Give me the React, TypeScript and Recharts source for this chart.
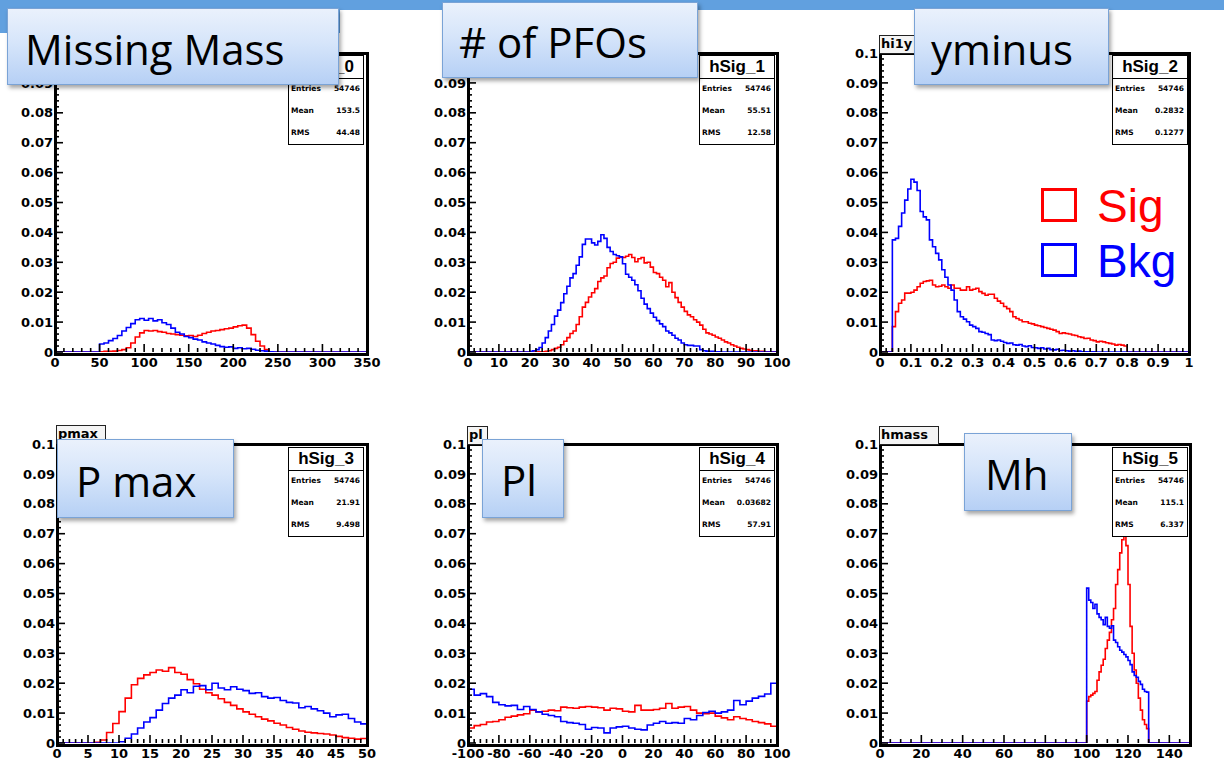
import React from 'react';
import { LineChart, Line, XAxis, YAxis } from 'recharts';

const SIG = '#ff0000';
const BKG = '#0000ff';
const BAR = '#61a0df';

// ---------- y axis (shared) ----------
const yMajor = [0, 0.01, 0.02, 0.03, 0.04, 0.05, 0.06, 0.07, 0.08, 0.09, 0.1];
const yLabels = ['0', '0.01', '0.02', '0.03', '0.04', '0.05', '0.06', '0.07', '0.08', '0.09', '0.1'];

// ---------- Panel 1: Missing Mass ----------
const mmRange = [0, 350];
const mmStart = 50;
const mmWidth = 5;
const mmSig = [
  0.0001, 0.0002, 0.0002, 0.0003, 0.0005, 0.0008, 0.0014, 0.0030, 0.0050, 0.0064,
  0.0072, 0.0070, 0.0072, 0.0068, 0.0066, 0.0062, 0.0060, 0.0058, 0.0056, 0.0054,
  0.0055, 0.0052, 0.0056, 0.0062, 0.0066, 0.0070, 0.0072, 0.0075, 0.0078, 0.0080,
  0.0084, 0.0088, 0.0090, 0.0080, 0.0058, 0.0036, 0.0020, 0.0008, 0.0001,
];
const mmBkg = [
  0.0027, 0.0030, 0.0038, 0.0045, 0.0055, 0.0070, 0.0082, 0.0095, 0.0108, 0.0112,
  0.0106, 0.0112, 0.0104, 0.0108, 0.0098, 0.0092, 0.0080, 0.0066, 0.0060, 0.0052,
  0.0048, 0.0043, 0.0040, 0.0034, 0.0030, 0.0027, 0.0022, 0.0018, 0.0016, 0.0017,
  0.0012, 0.0014, 0.0011, 0.0012, 0.0009, 0.0006, 0.0004, 0.0003, 0.0001,
];
const mmXTicks = [0, 50, 100, 150, 200, 250, 300, 350];
const mmXLabels = ['0', '50', '100', '150', '200', '250', '300', '350'];

// ---------- Panel 2: # of PFOs ----------
const pfoRange = [0, 100];
const pfoStart = 20;
const pfoWidth = 1;
const pfoSig = [
  0.0001, 0.0001, 0.0001, 0.0001, 0.0001, 0.0002, 0.0004, 0.0008, 0.0012, 0.0016,
  0.0024, 0.0036, 0.0048, 0.0062, 0.0070, 0.0092, 0.0118, 0.0150, 0.0166, 0.0184,
  0.0198, 0.0212, 0.0236, 0.0248, 0.0254, 0.0282, 0.0296, 0.0300, 0.0314, 0.0318,
  0.0316, 0.0320, 0.0326, 0.0316, 0.0302, 0.0312, 0.0316, 0.0298, 0.0300, 0.0284,
  0.0266, 0.0262, 0.0250, 0.0240, 0.0218, 0.0232, 0.0200, 0.0182, 0.0166, 0.0150,
  0.0136, 0.0124, 0.0118, 0.0108, 0.0100, 0.0090, 0.0076, 0.0064, 0.0060, 0.0056,
  0.0050, 0.0046, 0.0040, 0.0034, 0.0030, 0.0024, 0.0020, 0.0016, 0.0012, 0.0010,
  0.0008, 0.0006, 0.0004, 0.0004, 0.0002, 0.0002, 0.0001, 0.0001, 0.0001, 0.0001,
];
const pfoBkg = [
  0.0002, 0.0004, 0.0008, 0.0015, 0.0030, 0.0048, 0.0070, 0.0092, 0.0120, 0.0140,
  0.0165, 0.0195, 0.0220, 0.0248, 0.0262, 0.0290, 0.0318, 0.0360, 0.0378, 0.0378,
  0.0365, 0.0358, 0.0370, 0.0392, 0.0380, 0.0350, 0.0336, 0.0326, 0.0322, 0.0318,
  0.0295, 0.0260, 0.0250, 0.0240, 0.0225, 0.0205, 0.0180, 0.0160, 0.0145, 0.0130,
  0.0116, 0.0105, 0.0094, 0.0085, 0.0070, 0.0064, 0.0056, 0.0046, 0.0040, 0.0030,
  0.0024, 0.0022, 0.0022, 0.0020, 0.0020, 0.0008, 0.0004, 0.0003, 0.0002, 0.0002,
  0.0001, 0.0001, 0, 0, 0, 0, 0, 0, 0, 0,
  0, 0, 0, 0, 0, 0, 0, 0, 0, 0,
];
const pfoXTicks = [0, 10, 20, 30, 40, 50, 60, 70, 80, 90, 100];
const pfoXLabels = ['0', '10', '20', '30', '40', '50', '60', '70', '80', '90', '100'];

// ---------- Panel 3: yminus ----------
const ymRange = [0, 1];
const ymStart = 0.04;
const ymWidth = 0.01;
const ymSig = [
  0.0085, 0.0135, 0.0163, 0.0174, 0.0197, 0.0197,
  0.0200, 0.0207, 0.0218, 0.0230, 0.0236, 0.0238, 0.0240, 0.0224, 0.0218, 0.0220,
  0.0224, 0.0218, 0.0213, 0.0224, 0.0213, 0.0213, 0.0207, 0.0207, 0.0218, 0.0207,
  0.0210, 0.0213, 0.0202, 0.0196, 0.0190, 0.0193, 0.0193, 0.0180, 0.0170, 0.0163,
  0.0152, 0.0145, 0.0135, 0.0118, 0.0112, 0.0107, 0.0101, 0.0101, 0.0096, 0.0094,
  0.0090, 0.0088, 0.0085, 0.0082, 0.0079, 0.0076, 0.0073, 0.0068, 0.0062, 0.0064,
  0.0062, 0.0060, 0.0057, 0.0055, 0.0051, 0.0049, 0.0045, 0.0046, 0.0040, 0.0038,
  0.0034, 0.0036, 0.0034, 0.0031, 0.0029, 0.0027, 0.0023, 0.0025, 0.0023, 0.0020,
];
const ymBkg = [
  0.0375, 0.0380, 0.0420, 0.0465, 0.0508, 0.0545,
  0.0578, 0.0568, 0.0540, 0.0470, 0.0452, 0.0442, 0.0375, 0.0352, 0.0330, 0.0308,
  0.0275, 0.0250, 0.0224, 0.0207, 0.0174, 0.0135, 0.0118, 0.0110, 0.0101, 0.0090,
  0.0085, 0.0079, 0.0068, 0.0066, 0.0062, 0.0058, 0.0040, 0.0038, 0.0040, 0.0036,
  0.0032, 0.0029, 0.0030, 0.0024, 0.0023, 0.0025, 0.0020, 0.0018, 0.0021, 0.0015,
  0.0014, 0.0012, 0.0014, 0.0010, 0.0012, 0.0008, 0.0007, 0.0009, 0.0005, 0.0006,
  0.0004, 0.0003, 0.0004, 0.0002, 0.0003, 0.0001, 0.0001, 0.0001, 0.0001, 0.0001,
  0, 0, 0, 0, 0, 0, 0, 0, 0, 0,
];
const ymXTicks = [0, 0.1, 0.2, 0.3, 0.4, 0.5, 0.6, 0.7, 0.8, 0.9, 1];
const ymXLabels = ['0', '0.1', '0.2', '0.3', '0.4', '0.5', '0.6', '0.7', '0.8', '0.9', '1'];

// ---------- Panel 4: P max ----------
const pmRange = [0, 50];
const pmStart = 6;
const pmWidth = 1;
const pmSig = [
  0.0002, 0.0010, 0.0035, 0.0065, 0.0105, 0.0150, 0.0195, 0.0216, 0.0228, 0.0236,
  0.0244, 0.0240, 0.0252, 0.0236, 0.0230, 0.0212, 0.0198, 0.0180, 0.0168, 0.0160,
  0.0148, 0.0136, 0.0126, 0.0114, 0.0104, 0.0096, 0.0088, 0.0080, 0.0074, 0.0066,
  0.0060, 0.0052, 0.0046, 0.0040, 0.0036, 0.0034, 0.0032, 0.0030, 0.0027, 0.0022,
  0.0018, 0.0016, 0.0013, 0.0015,
];
const pmBkg = [
  0, 0, 0, 0, 0.0004, 0.0016, 0.0030, 0.0050, 0.0070, 0.0085,
  0.0110, 0.0132, 0.0150, 0.0160, 0.0178, 0.0168, 0.0190, 0.0192, 0.0178, 0.0200,
  0.0184, 0.0178, 0.0188, 0.0180, 0.0175, 0.0166, 0.0168, 0.0155, 0.0150, 0.0152,
  0.0142, 0.0136, 0.0134, 0.0118, 0.0122, 0.0114, 0.0108, 0.0100, 0.0088, 0.0094,
  0.0096, 0.0082, 0.0070, 0.0064,
];
const pmXTicks = [0, 5, 10, 15, 20, 25, 30, 35, 40, 45, 50];
const pmXLabels = ['0', '5', '10', '15', '20', '25', '30', '35', '40', '45', '50'];

// ---------- Panel 5: Pl ----------
const plRange = [-100, 100];
const plStart = -100;
const plWidth = 4;
const plSig = [
  0.0050, 0.0058, 0.0062, 0.0070, 0.0072, 0.0078, 0.0086, 0.0090, 0.0094, 0.0098,
  0.0110, 0.0104, 0.0106, 0.0110, 0.0108, 0.0120, 0.0118, 0.0116, 0.0120, 0.0122,
  0.0120, 0.0118, 0.0110, 0.0116, 0.0114, 0.0106, 0.0104, 0.0126, 0.0110, 0.0110,
  0.0112, 0.0116, 0.0132, 0.0116, 0.0120, 0.0122, 0.0110, 0.0100, 0.0098, 0.0100,
  0.0090, 0.0084, 0.0078, 0.0088, 0.0082, 0.0078, 0.0072, 0.0068, 0.0064, 0.0056,
];
const plBkg = [
  0.0180, 0.0160, 0.0165, 0.0155, 0.0136, 0.0128, 0.0124, 0.0126, 0.0112, 0.0122,
  0.0112, 0.0104, 0.0096, 0.0092, 0.0088, 0.0072, 0.0068, 0.0066, 0.0062, 0.0046,
  0.0052, 0.0050, 0.0034, 0.0050, 0.0054, 0.0056, 0.0050, 0.0046, 0.0044, 0.0060,
  0.0066, 0.0072, 0.0066, 0.0068, 0.0066, 0.0082, 0.0078, 0.0092, 0.0102, 0.0106,
  0.0100, 0.0104, 0.0110, 0.0142, 0.0128, 0.0140, 0.0150, 0.0156, 0.0164, 0.0200,
];
const plXTicks = [-100, -80, -60, -40, -20, 0, 20, 40, 60, 80, 100];
const plXLabels = ['-100', '-80', '-60', '-40', '-20', '0', '20', '40', '60', '80', '100'];

// ---------- Panel 6: Mh ----------
const mhRange = [0, 150];
const mhStart = 100;
const mhWidth = 1;
const mhSig = [
  0.0140, 0.0155, 0.0160, 0.0166, 0.0172, 0.0210, 0.0238, 0.0260, 0.0280, 0.0316,
  0.0344, 0.0370, 0.0412, 0.0450, 0.0530, 0.0580, 0.0636, 0.0680, 0.0692, 0.0660,
  0.0530, 0.0390, 0.0300, 0.0244, 0.0200, 0.0150, 0.0110, 0.0078, 0.0062, 0.0048,
];
const mhBkg = [
  0.0518, 0.0478, 0.0470, 0.0450, 0.0464, 0.0432, 0.0420, 0.0412, 0.0396, 0.0420,
  0.0390, 0.0384, 0.0392, 0.0344, 0.0336, 0.0322, 0.0310, 0.0304, 0.0296, 0.0288,
  0.0276, 0.0262, 0.0238, 0.0226, 0.0220, 0.0206, 0.0196, 0.0180, 0.0172, 0.0170,
];
const mhXTicks = [0, 20, 40, 60, 80, 100, 120, 140];
const mhXLabels = ['0', '20', '40', '60', '80', '100', '120', '140'];

// ---------- helpers ----------
type Row = { x: number; sig: number; bkg: number };

function histTable(range: number[], start: number, width: number, sig: number[], bkg: number[]): Row[] {
  const rows: Row[] = [{ x: range[0], sig: 0, bkg: 0 }];
  sig.forEach((s, i) => rows.push({ x: +(start + i * width).toFixed(6), sig: s, bkg: bkg[i] }));
  const end = +(start + sig.length * width).toFixed(6);
  rows.push({ x: end, sig: 0, bkg: 0 });
  if (end < range[1]) rows.push({ x: range[1], sig: 0, bkg: 0 });
  return rows;
}

function grid(lo: number, hi: number, step: number): number[] {
  const n = Math.round((hi - lo) / step);
  return Array.from({ length: n + 1 }, (_, i) => +(lo + i * step).toFixed(6));
}

const tickFont: React.CSSProperties = {
  fontFamily: '"DejaVu Sans", sans-serif',
  fontWeight: 700,
  fontSize: 13,
  fill: '#000',
};

const makeXTick = (majors: number[], labels: string[]) => (props: any) => {
  const x = Number(props.x);
  const y = Number(props.y);
  const idx = majors.findIndex((m) => Math.abs(m - props.payload.value) < 1e-7);
  const major = idx >= 0;
  const len = major ? 8 : 4;
  return (
    <g>
      <path d={`M${x},${y}L${x},${y - len}`} stroke="#000" strokeWidth={1.6} fill="none" />
      {major && (
        <text x={x} y={y + 15} textAnchor="middle" style={tickFont}>
          {labels[idx]}
        </text>
      )}
    </g>
  );
};

const yTickFn = (props: any) => {
  const x = Number(props.x);
  const y = Number(props.y);
  const idx = yMajor.findIndex((m) => Math.abs(m - props.payload.value) < 1e-7);
  const major = idx >= 0;
  const len = major ? 8 : 4;
  return (
    <g>
      <path d={`M${x},${y}L${x + len},${y}`} stroke="#000" strokeWidth={1.6} fill="none" />
      {major && (
        <text x={x - 2} y={y} dy="0.36em" textAnchor="end" style={tickFont}>
          {yLabels[idx]}
        </text>
      )}
    </g>
  );
};

const yAll = grid(0, 0.1, 0.002);

type PanelProps = {
  left: number;
  top: number;
  right: number;
  bottom: number;
  range: number[];
  data: Row[];
  xMajor: number[];
  xLabels: string[];
  minorStep: number;
};

function Panel({ left, top, right, bottom, range, data, xMajor, xLabels, minorStep }: PanelProps) {
  const w = right - left;
  const h = bottom - top;
  const xAll = grid(range[0], range[1], minorStep);
  return (
    <>
      <div style={{ position: 'absolute', left: left - 50, top: top - 10 }}>
        <LineChart width={w + 75} height={h + 30} data={data} margin={{ top: 10, right: 25, left: 0, bottom: 0 }}>
          <XAxis
            dataKey="x"
            type="number"
            domain={range}
            allowDataOverflow
            ticks={xAll}
            interval={0}
            tickSize={0}
            tickMargin={0}
            height={20}
            axisLine={false}
            tickLine={false}
            tick={makeXTick(xMajor, xLabels)}
          />
          <YAxis
            type="number"
            domain={[0, 0.1]}
            allowDataOverflow
            ticks={yAll}
            interval={0}
            tickSize={0}
            tickMargin={0}
            width={50}
            axisLine={false}
            tickLine={false}
            tick={yTickFn}
          />
          <Line type="stepAfter" dataKey="sig" stroke={SIG} strokeWidth={1.6} dot={false} isAnimationActive={false} strokeLinejoin="miter" />
          <Line type="stepAfter" dataKey="bkg" stroke={BKG} strokeWidth={1.6} dot={false} isAnimationActive={false} strokeLinejoin="miter" />
        </LineChart>
      </div>
      <div
        style={{
          position: 'absolute',
          left: left - 1.5,
          top: top - 1.5,
          width: w + 3,
          height: h + 5,
          border: '3px solid #000',
          boxSizing: 'border-box',
          pointerEvents: 'none',
        }}
      />
    </>
  );
}

function StatsBox({ right, top, name, entries, mean, rms }: { right: number; top: number; name: string; entries: string; mean: string; rms: string }) {
  const row = (label: string, value: string, cy: number) => (
    <div style={{ position: 'absolute', left: 2, right: 3, top: cy - 6, height: 12, lineHeight: '12px', fontSize: 7.5, fontWeight: 700, fontFamily: '"DejaVu Sans", sans-serif', display: 'flex', justifyContent: 'space-between', color: '#000' }}>
      <span>{label}</span>
      <span>{value}</span>
    </div>
  );
  return (
    <div style={{ position: 'absolute', left: right - 76, top, width: 76, height: 90, background: '#fff', border: '1.5px solid #000', boxSizing: 'border-box' }}>
      <div style={{ position: 'absolute', left: 0, right: 0, top: 0, height: 22, borderBottom: '1.5px solid #000', textAlign: 'center', fontFamily: '"Liberation Sans", Arial, sans-serif', fontWeight: 700, fontSize: 17, lineHeight: '22px', color: '#000' }}>
        {name}
      </div>
      {row('Entries', entries, 33)}
      {row('Mean', mean, 55)}
      {row('RMS', rms, 77)}
    </div>
  );
}

function TitleTag({ left, top, width, text }: { left: number; top: number; width: number; text: string }) {
  return (
    <div style={{ position: 'absolute', left, top, width, height: 19, background: '#f4f4f4', border: '1.5px solid #222', boxSizing: 'border-box', fontFamily: '"DejaVu Sans", sans-serif', fontWeight: 700, fontSize: 13, lineHeight: '16px', paddingLeft: 1, overflow: 'hidden', whiteSpace: 'nowrap', color: '#000' }}>
      {text}
    </div>
  );
}

function SlideLabel({ left, top, width, height, text, textLeft, baseline }: { left: number; top: number; width: number; height: number; text: string; textLeft: number; baseline: number }) {
  return (
    <>
      <div
        style={{
          position: 'absolute',
          left,
          top,
          width,
          height,
          boxSizing: 'border-box',
          border: '1.2px solid #7aa3d6',
          background: 'linear-gradient(to bottom, #eaf1fc 0%, #d6e5fa 45%, #b6d0f5 100%)',
          boxShadow: '2px 3px 4px rgba(0,0,0,0.35)',
        }}
      />
      <div
        style={{
          position: 'absolute',
          left: textLeft - 3,
          top: baseline - 37,
          fontFamily: '"Open Sans", sans-serif',
          fontSize: 42,
          lineHeight: 1,
          color: '#000',
          whiteSpace: 'nowrap',
        }}
      >
        {text}
      </div>
    </>
  );
}

const mmData = histTable(mmRange, mmStart, mmWidth, mmSig, mmBkg);
const pfoData = histTable(pfoRange, pfoStart, pfoWidth, pfoSig, pfoBkg);
const ymData = histTable(ymRange, ymStart, ymWidth, ymSig, ymBkg);
const pmData = histTable(pmRange, pmStart, pmWidth, pmSig, pmBkg);
const plData = histTable(plRange, plStart, plWidth, plSig, plBkg);
const mhData = histTable(mhRange, mhStart, mhWidth, mhSig, mhBkg);

export default function App() {
  return (
    <div style={{ position: 'absolute', left: 0, top: 0, width: 1224, height: 760, background: '#fff', overflow: 'hidden' }}>
      <div style={{ position: 'absolute', left: 0, top: 0, width: 1224, height: 10, background: BAR }} />
      <div style={{ position: 'absolute', left: 0, top: 0, width: 340, height: 33, background: BAR }} />

      <Panel left={55} top={53} right={367} bottom={352} range={mmRange} data={mmData} xMajor={mmXTicks} xLabels={mmXLabels} minorStep={10} />
      <Panel left={468} top={53} right={777} bottom={352} range={pfoRange} data={pfoData} xMajor={pfoXTicks} xLabels={pfoXLabels} minorStep={2} />
      <Panel left={880} top={53} right={1189} bottom={352} range={ymRange} data={ymData} xMajor={ymXTicks} xLabels={ymXLabels} minorStep={0.02} />
      <Panel left={57} top={444} right={367} bottom={743} range={pmRange} data={pmData} xMajor={pmXTicks} xLabels={pmXLabels} minorStep={1} />
      <Panel left={468} top={444} right={777} bottom={743} range={plRange} data={plData} xMajor={plXTicks} xLabels={plXLabels} minorStep={4} />
      <Panel left={880} top={444} right={1190} bottom={743} range={mhRange} data={mhData} xMajor={mhXTicks} xLabels={mhXLabels} minorStep={5} />

      <StatsBox right={364} top={55} name="hSig_0" entries="54746" mean="153.5" rms="44.48" />
      <StatsBox right={775} top={55} name="hSig_1" entries="54746" mean="55.51" rms="12.58" />
      <StatsBox right={1188} top={55} name="hSig_2" entries="54746" mean="0.2832" rms="0.1277" />
      <StatsBox right={364} top={447} name="hSig_3" entries="54746" mean="21.91" rms="9.498" />
      <StatsBox right={775} top={447} name="hSig_4" entries="54746" mean="0.03682" rms="57.91" />
      <StatsBox right={1188} top={447} name="hSig_5" entries="54746" mean="115.1" rms="6.337" />

      <TitleTag left={879} top={35} width={48} text="hi1y" />
      <TitleTag left={56} top={425} width={50} text="pmax" />
      <TitleTag left={467} top={426} width={21} text="pl" />
      <TitleTag left={879} top={426} width={60} text="hmass" />

      <SlideLabel left={7} top={8} width={332} height={77} text="Missing Mass" textLeft={28} baseline={65} />
      <SlideLabel left={442} top={2} width={256} height={76} text="# of PFOs" textLeft={462} baseline={58} />
      <SlideLabel left={914} top={8} width={195} height={77} text="yminus" textLeft={934} baseline={65} />
      <SlideLabel left={57} top={439} width={177} height={79} text="P max" textLeft={79} baseline={497} />
      <SlideLabel left={482} top={439} width={82} height={79} text="Pl" textLeft={504} baseline={496} />
      <SlideLabel left={964} top={433} width={108} height={78} text="Mh" textLeft={988} baseline={490} />

      <div style={{ position: 'absolute', left: 1041, top: 188, width: 36, height: 34, border: `3px solid ${SIG}`, boxSizing: 'border-box' }} />
      <div style={{ position: 'absolute', left: 1041, top: 243, width: 36, height: 34, border: `3px solid ${BKG}`, boxSizing: 'border-box' }} />
      <div style={{ position: 'absolute', left: 1097, top: 222 - 39, fontFamily: '"Liberation Sans", Arial, sans-serif', fontSize: 46, lineHeight: 1, color: SIG, whiteSpace: 'nowrap' }}>Sig</div>
      <div style={{ position: 'absolute', left: 1097, top: 277 - 39, fontFamily: '"Liberation Sans", Arial, sans-serif', fontSize: 46, lineHeight: 1, color: BKG, whiteSpace: 'nowrap' }}>Bkg</div>
    </div>
  );
}
